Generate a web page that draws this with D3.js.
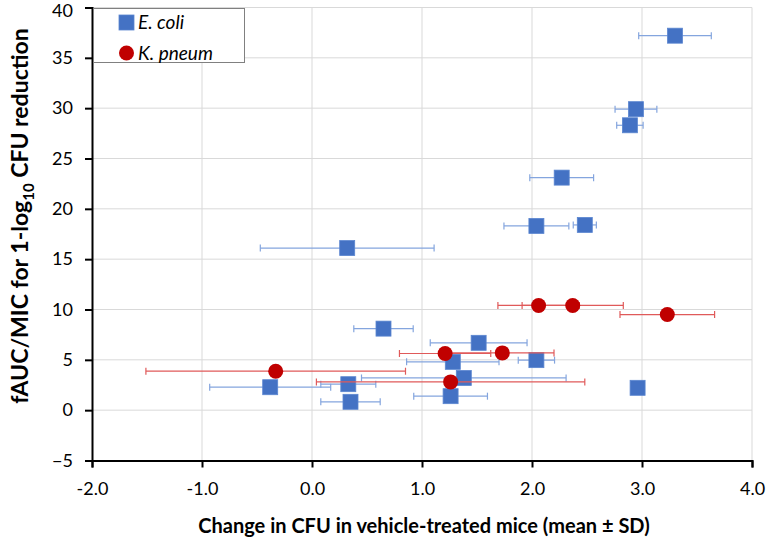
<!DOCTYPE html>
<html>
<head>
<meta charset="utf-8">
<script src="https://cdn.jsdelivr.net/npm/d3@7"></script>
<style>
  body { margin: 0; background: #fff; }
  svg { display: block; font-family: Lato, "Open Sans", sans-serif; }
</style>
</head>
<body>
<svg id="chart"></svg>
<script>
const width = 766, height = 541;
const margin = { top: 7.5, right: 14, bottom: 80.5, left: 92 };
const plotWidth = width - margin.left - margin.right;
const plotHeight = height - margin.top - margin.bottom;

// E. coli: mean change in CFU (x), fAUC/MIC (y), SD of x
const ecoliX = [3.30, 2.945, 2.89, 2.27, 2.04, 2.48, 0.32, 0.65, 1.515, 1.28, 2.04, 1.38, -0.38, 0.33, 0.35, 1.26, 2.96];
const ecoliY = [37.2, 29.9, 28.3, 23.1, 18.3, 18.4, 16.1, 8.1, 6.69, 4.8, 4.97, 3.2, 2.28, 2.58, 0.83, 1.39, 2.22];
const ecoliSD = [0.33, 0.19, 0.12, 0.29, 0.295, 0.105, 0.79, 0.27, 0.44, 0.42, 0.165, 0.93, 0.55, 0.25, 0.27, 0.335, 0];

// K. pneumoniae
const kpX = [2.06, 2.37, 3.23, 1.21, 1.73, -0.33, 1.26];
const kpY = [10.4, 10.4, 9.5, 5.63, 5.69, 3.87, 2.81];
const kpSD = [0.37, 0.46, 0.43, 0.415, 0.47, 1.18, 1.22];

const xTicks = [-2, -1, 0, 1, 2, 3, 4];
const yTicks = [-5, 0, 5, 10, 15, 20, 25, 30, 35, 40];

const svg = d3.select("#chart")
    .attr("width", width)
    .attr("height", height)
    .attr("viewBox", [0, 0, width, height]);

const g = svg.append("g").attr("transform", `translate(${margin.left},${margin.top})`);

const xScale = d3.scaleLinear().domain([-2, 4]).range([0, plotWidth]);
const yScale = d3.scaleLinear().domain([-5, 40]).range([plotHeight, 0]);

// gridlines
g.append("g").selectAll("line")
    .data(xTicks.slice(1))
    .enter().append("line")
    .attr("x1", d => xScale(d)).attr("x2", d => xScale(d))
    .attr("y1", 0).attr("y2", plotHeight)
    .attr("stroke", "#d9d9d9").attr("stroke-width", 1);

g.append("g").selectAll("line")
    .data(yTicks.slice(1))
    .enter().append("line")
    .attr("x1", 0).attr("x2", plotWidth)
    .attr("y1", d => yScale(d)).attr("y2", d => yScale(d))
    .attr("stroke", "#d9d9d9").attr("stroke-width", 1);

// axes
const xAxis = g.append("g")
    .attr("transform", `translate(0,${plotHeight})`)
    .call(d3.axisBottom(xScale).tickValues(xTicks).tickSize(7).tickPadding(15)
        .tickFormat(d => d.toFixed(1)));

const yAxis = g.append("g")
    .call(d3.axisLeft(yScale).tickValues(yTicks).tickSize(7).tickPadding(12));

[xAxis, yAxis].forEach(a => {
    a.select(".domain").attr("stroke", "#000").attr("stroke-width", 2);
    a.selectAll(".tick line").attr("stroke", "#000").attr("stroke-width", 2);
    a.selectAll(".tick text")
        .attr("font-family", "Lato, sans-serif")
        .attr("font-size", "18px")
        .attr("fill", "#000");
});
// keep the top label inside the frame
yAxis.selectAll(".tick text").filter(d => d === 40).attr("dy", "0.5em");

// error bars + markers
function drawSeries(xs, ys, sds, barColor, drawMarker) {
    const data = xs.map((x, i) => ({ x, y: ys[i], sd: sds[i] }));
    const bars = g.append("g");
    data.filter(d => d.sd > 0).forEach(d => {
        const x0 = xScale(d.x - d.sd), x1 = xScale(d.x + d.sd), y = yScale(d.y);
        bars.append("line").attr("x1", x0).attr("x2", x1).attr("y1", y).attr("y2", y)
            .attr("stroke", barColor).attr("stroke-width", 1.2);
        [x0, x1].forEach(xc => {
            bars.append("line").attr("x1", xc).attr("x2", xc).attr("y1", y - 3.5).attr("y2", y + 3.5)
                .attr("stroke", barColor).attr("stroke-width", 1.2);
        });
    });
    const marks = g.append("g");
    data.forEach(d => drawMarker(marks, xScale(d.x), yScale(d.y)));
}

const blue = "#4472c4", red = "#c00000";

const square = (sel, cx, cy) => sel.append("rect")
    .attr("x", cx - 7.5).attr("y", cy - 7.5).attr("width", 15).attr("height", 15)
    .attr("fill", blue).attr("stroke", "#5b86d0").attr("stroke-width", 0.8);
const circle = (sel, cx, cy) => sel.append("circle")
    .attr("cx", cx).attr("cy", cy).attr("r", 7.5)
    .attr("fill", red);

drawSeries(ecoliX, ecoliY, ecoliSD, "#84a5de", square);
drawSeries(kpX, kpY, kpSD, "#e05a5a", circle);

// legend
const legend = svg.append("g").attr("transform", "translate(93,8)");
legend.append("rect")
    .attr("x", 0.5).attr("y", 0.5).attr("width", 151).attr("height", 54)
    .attr("fill", "#fff").attr("stroke", "#808080").attr("stroke-width", 1);
square(legend, 33.5, 14.5);
circle(legend, 33.5, 45);
legend.append("text").attr("x", 45).attr("y", 21)
    .attr("font-size", "19px").attr("font-style", "italic").text("E. coli");
legend.append("text").attr("x", 45).attr("y", 51.5)
    .attr("font-size", "19px").attr("font-style", "italic").text("K. pneum");

// axis titles
svg.append("text")
    .attr("x", margin.left + plotWidth / 2 + 2).attr("y", 533)
    .attr("text-anchor", "middle")
    .attr("font-size", "20px").attr("font-weight", "bold")
    .text("Change in CFU in vehicle-treated mice (mean ± SD)");

const yTitle = svg.append("text")
    .attr("transform", "translate(28,216)rotate(-90)")
    .attr("text-anchor", "middle")
    .attr("font-size", "23px").attr("font-weight", "bold");
yTitle.append("tspan").text("fAUC/MIC for 1-log");
yTitle.append("tspan").attr("font-size", "15px").attr("dy", 6).text("10");
yTitle.append("tspan").attr("dy", -6).text(" CFU reduction");
</script>
</body>
</html>
